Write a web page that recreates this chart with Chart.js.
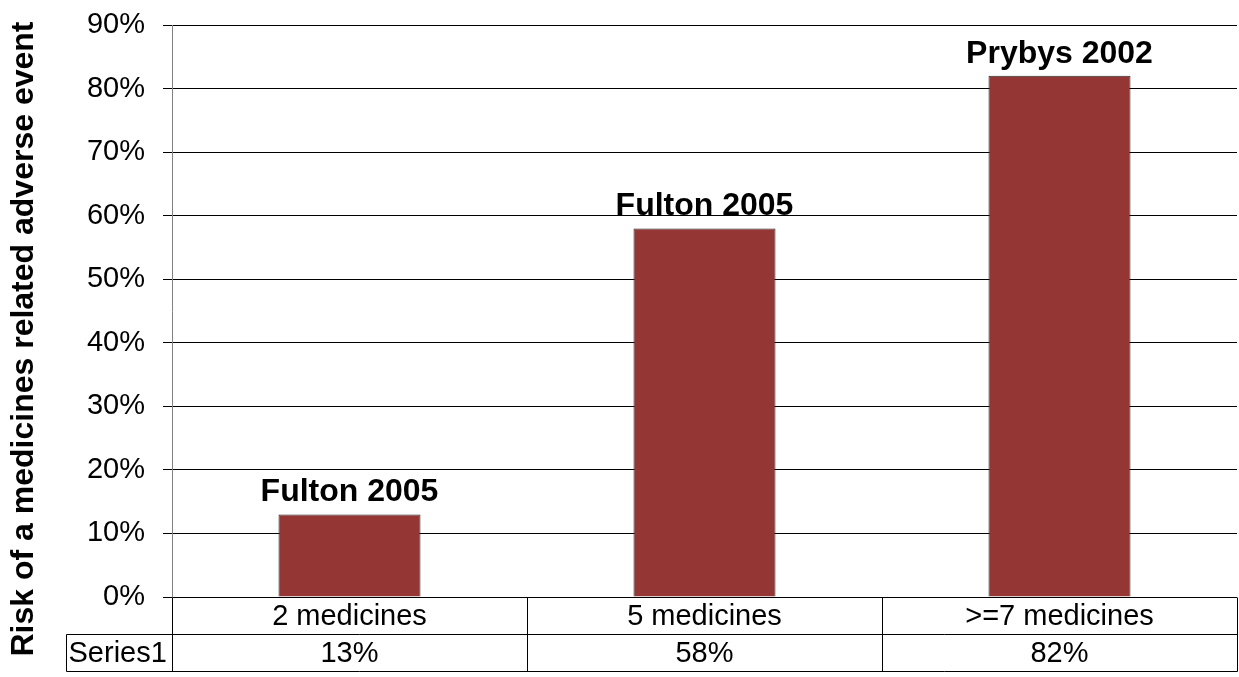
<!DOCTYPE html>
<html>
<head>
<meta charset="utf-8">
<script src="https://cdn.jsdelivr.net/npm/chart.js@4.4.1/dist/chart.umd.min.js"></script>
<style>
  html, body { margin: 0; padding: 0; background: #fff; }
  #wrap { width: 1239px; height: 677px; position: relative; }
</style>
</head>
<body>
<div id="wrap"><canvas id="chart" width="1239" height="677"></canvas></div>
<script>
// 차트 데이터
const categories = ['2 medicines', '5 medicines', '>=7 medicines'];
const riskValues = [13, 58, 82];
const studyLabels = ['Fulton 2005', 'Fulton 2005', 'Prybys 2002'];
const seriesName = 'Series1';
const yTitle = 'Risk of a medicines related adverse event';

const FONT = "'Liberation Sans', Arial, sans-serif";

// 막대 위 라벨 + 아래 데이터 테이블 + 세로 축 제목
const tablePlugin = {
  id: 'tablePlugin',
  afterDraw(chart) {
    const ctx = chart.ctx;
    const area = chart.chartArea;
    const xs = chart.scales.x;
    const meta = chart.getDatasetMeta(0);
    ctx.save();

    // 막대 위 연구 라벨
    ctx.fillStyle = '#000';
    ctx.font = 'bold 32px ' + FONT;
    ctx.textAlign = 'center';
    ctx.textBaseline = 'alphabetic';
    meta.data.forEach((bar, i) => {
      ctx.fillText(studyLabels[i], bar.x, bar.y - 13);
    });

    // 데이터 테이블
    const row1Top = Math.round(area.bottom) + 0.5;
    const rowH = 37;
    const row2Top = row1Top + rowH;
    const row2Bot = row2Top + rowH;
    const right = Math.round(area.right) + 0.5;
    const labelLeft = 66.5;
    const step = (area.right - area.left) / categories.length;

    ctx.strokeStyle = '#000';
    ctx.lineWidth = 1;
    ctx.beginPath();
    // 가로선
    ctx.moveTo(labelLeft, row2Top); ctx.lineTo(right, row2Top);
    ctx.moveTo(labelLeft, row2Bot); ctx.lineTo(right, row2Bot);
    // 세로선
    ctx.moveTo(labelLeft, row2Top); ctx.lineTo(labelLeft, row2Bot);
    for (let i = 0; i <= categories.length; i++) {
      const x = Math.round(area.left + step * i) + 0.5;
      ctx.moveTo(x, row1Top); ctx.lineTo(x, row2Bot);
    }
    ctx.stroke();

    ctx.font = '29px ' + FONT;
    ctx.textBaseline = 'middle';
    ctx.textAlign = 'center';
    categories.forEach((c, i) => {
      const cx = xs.getPixelForValue(i);
      ctx.fillText(c, cx, row1Top + rowH / 2 + 1);
      ctx.fillText(riskValues[i] + '%', cx, row2Top + rowH / 2 + 1);
    });
    ctx.textAlign = 'left';
    ctx.fillText(seriesName, labelLeft + 2, row2Top + rowH / 2 + 1);

    // 세로 축 제목
    ctx.translate(24, 339);
    ctx.rotate(-Math.PI / 2);
    ctx.font = 'bold 32px ' + FONT;
    ctx.textAlign = 'center';
    ctx.textBaseline = 'middle';
    ctx.fillText(yTitle, 0, 0);
    ctx.restore();
  }
};

new Chart(document.getElementById('chart').getContext('2d'), {
  type: 'bar',
  data: {
    labels: categories,
    datasets: [{
      label: seriesName,
      data: riskValues,
      backgroundColor: '#943634',
      borderColor: '#2b2b2b',
      borderWidth: 1,
      borderSkipped: 'bottom',
      categoryPercentage: 1,
      barPercentage: 0.4
    }]
  },
  options: {
    responsive: false,
    animation: false,
    events: [],
    layout: { padding: { top: 25, right: 2, bottom: 80, left: 0 } },
    plugins: {
      legend: { display: false },
      tooltip: { enabled: false }
    },
    scales: {
      x: {
        display: false,
        offset: true
      },
      y: {
        min: 0,
        max: 90,
        ticks: {
          stepSize: 10,
          padding: 18,
          color: '#000',
          font: { family: FONT, size: 29 },
          callback: v => v + '%'
        },
        grid: { color: '#000', lineWidth: 1, tickLength: 9, tickColor: '#000' },
        border: { color: '#808080', width: 1 },
        afterFit(scale) {
          scale.width = 172;
          scale.paddingTop = 0;
          scale.paddingBottom = 0;
        }
      }
    }
  },
  plugins: [tablePlugin]
});
</script>
</body>
</html>
